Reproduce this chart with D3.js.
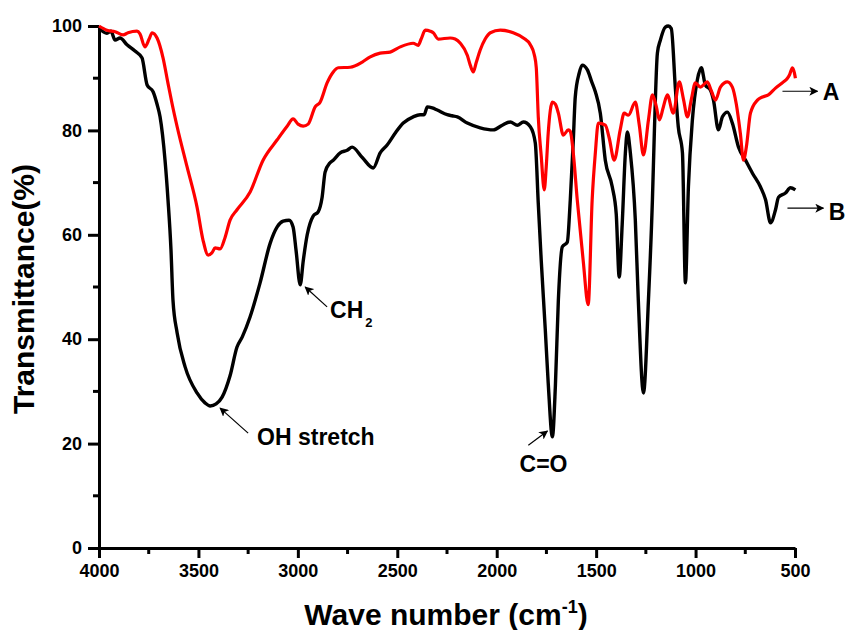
<!DOCTYPE html>
<html>
<head>
<meta charset="utf-8">
<script src="https://cdn.jsdelivr.net/npm/d3@7"></script>
<style>
  html, body { margin: 0; padding: 0; background: #fff; }
  svg { display: block; font-family: "Liberation Sans", Arial, sans-serif; font-weight: bold; }
</style>
</head>
<body>
<svg id="chart" width="845" height="630"></svg>
<script>
// FTIR spectra: wavenumber (cm-1) and transmittance (%)
const wavenumberA = [4000,3960,3919,3879,3854,3809,3794,3769,3748,3733,3708,3678,3653,3633,3607,3557,3507,3477,3451,3431,3416,3391,3366,3341,3306,3240,3175,3104,3054,3024,2999,2973,2948,2913,2888,2853,2822,2797,2737,2676,2636,2586,2536,2485,2420,2395,2380,2359,2334,2319,2294,2234,2209,2183,2148,2133,2118,2103,2083,2058,2032,1982,1917,1866,1831,1811,1801,1791,1776,1761,1751,1741,1720,1705,1690,1665,1640,1630,1615,1595,1565,1540,1520,1504,1489,1454,1434,1409,1379,1359,1338,1303,1283,1262,1237,1217,1197,1182,1162,1142,1112,1082,1061,1041,1021,1001,976,941,920,900,875,840,815,795,775,759,744,724,689,664,634,598,558,538,528,513,503,498];
const transmittanceA = [100,99.2,98.9,98.3,98.7,99.0,98.5,96.0,97.5,98.7,97.7,93.9,89,85.2,80.7,73.0,65.3,59.0,56.1,56.6,57.5,57.3,59.5,62.8,64.8,68.2,74.3,78.2,80.8,82.2,81.2,80.8,81.2,84.5,85.4,89.1,91.2,92.0,92.1,93.1,94.1,94.8,95.0,96.0,96.7,96.3,97.5,99.2,99.0,98.7,97.5,97.7,97.5,96.7,94.4,92.5,91.2,93.0,95.4,97.5,98.7,99.2,98.7,97.7,96.4,94.5,92,82.6,75,68.6,73,79.5,85.4,85.0,83.3,79.1,80.1,79.8,75.7,66.7,55,46.6,66.7,75.7,81.4,81.0,78.5,74.3,80.1,83.3,82.9,85.4,81,75.3,82,86.8,84.5,82.0,84.5,86.8,83.3,89.3,86,82.6,86,89.1,88.3,89.3,87.5,85.8,88.3,89.3,88.3,85,79.5,74.3,77,83.3,85.8,86.4,86.8,88.1,89.3,90.0,90.6,92.0,91.0,90.0];

const wavenumberB = [4000,3960,3940,3919,3894,3859,3819,3784,3758,3728,3708,3693,3668,3653,3638,3628,3607,3567,3507,3467,3441,3411,3381,3341,3306,3280,3240,3190,3139,3104,3074,3044,3024,3009,2988,2973,2953,2923,2898,2878,2863,2838,2822,2787,2752,2727,2676,2621,2586,2551,2510,2470,2420,2385,2365,2349,2324,2299,2249,2224,2198,2148,2083,2017,1972,1932,1896,1866,1831,1806,1791,1776,1756,1741,1720,1705,1690,1670,1645,1630,1615,1605,1585,1570,1544,1524,1504,1479,1454,1419,1399,1384,1369,1353,1343,1328,1303,1288,1262,1237,1217,1207,1192,1177,1152,1137,1122,1102,1087,1066,1051,1036,1016,991,971,951,925,910,885,865,840,815,784,749,714,674,648,623,598,583,548,523,498];
const transmittanceB = [99.6,98.6,99.0,97.3,97.7,96.4,95.2,93.9,88.7,87.4,85.0,82.6,74.3,66.7,57.1,47.5,41.2,34.7,29.7,27.8,27.2,27.6,28.9,33.0,38.5,40.4,44.3,50.8,58.4,61.5,62.6,62.8,61.5,57,50.4,55,60.0,63.6,64.4,67.2,72.0,73.8,74.3,75.7,76.2,76.8,74.8,72.8,75.7,77.2,79.5,81.4,82.6,83.0,83.0,84.5,84.3,83.9,83.0,82.8,82.6,81.4,80.5,80.1,81.0,81.6,81.0,81.6,80.7,77.6,66,55,42,31.6,21.3,31,47.5,57.7,58.6,66.7,78,86.4,91.0,92.5,91.6,89.5,87.4,83.3,74.3,69.2,64,51.9,62,75.7,79.7,75.7,62.8,47.5,29.7,47.5,66.7,80,94.8,97.3,99.8,100,99.5,88.3,80.7,75.7,50.8,69.2,82.0,89.7,92.0,88.7,87.7,85.8,80.1,82.6,83.5,81.4,76.8,74.3,71.8,69.2,66.7,62.3,64.8,67.2,68.0,69.0,68.6];

const xTickValues = [4000, 3500, 3000, 2500, 2000, 1500, 1000, 500];
const xMinorTicks = [3750, 3250, 2750, 2250, 1750, 1250, 750];
const yTickValues = [0, 20, 40, 60, 80, 100];
const yMinorTicks = [10, 30, 50, 70, 90];

const svg = d3.select("#chart");
const x = d3.scaleLinear().domain([4000, 500]).range([99, 795]);
const y = d3.scaleLinear().domain([0, 100]).range([548, 26]);

// Axes
const xAxis = svg.append("g").attr("transform", `translate(0,${y(0)})`)
  .call(d3.axisBottom(x).tickValues(xTickValues).tickFormat(d3.format("d"))
    .tickSize(10).tickSizeOuter(0).tickPadding(6));
xAxis.append("g").selectAll("line").data(xMinorTicks).join("line")
  .attr("x1", d => x(d)).attr("x2", d => x(d)).attr("y1", 0).attr("y2", 6);

const yAxis = svg.append("g").attr("transform", `translate(${x(4000)},0)`)
  .call(d3.axisLeft(y).tickValues(yTickValues).tickFormat(d3.format("d"))
    .tickSize(11).tickSizeOuter(0).tickPadding(6));
yAxis.append("g").selectAll("line").data(yMinorTicks).join("line")
  .attr("x1", 0).attr("x2", -6).attr("y1", d => y(d)).attr("y2", d => y(d));

[xAxis, yAxis].forEach(g => {
  g.select(".domain").attr("stroke", "#000").attr("stroke-width", 3);
  g.selectAll("line").attr("stroke", "#000").attr("stroke-width", 3);
  g.selectAll("text").attr("fill", "#000").style("font-size", "18px").style("font-weight", "bold")
    .style("font-family", "'Liberation Sans', Arial, sans-serif");
});

// Spectra
const line = d3.line().x(d => x(d[0])).y(d => y(d[1])).curve(d3.curveMonotoneX);
const seriesA = wavenumberA.map((w, i) => [w, transmittanceA[i]]);
const seriesB = wavenumberB.map((w, i) => [w, transmittanceB[i]]);

svg.append("path").datum(seriesB).attr("d", line)
  .attr("fill", "none").attr("stroke", "#000").attr("stroke-width", 3.4).attr("stroke-linejoin", "round");
svg.append("path").datum(seriesA).attr("d", line)
  .attr("fill", "none").attr("stroke", "#ff0000").attr("stroke-width", 3.2).attr("stroke-linejoin", "round");

// Arrowhead
svg.append("defs").append("marker")
  .attr("id", "head").attr("viewBox", "0 0 10 10").attr("refX", 9).attr("refY", 5)
  .attr("markerWidth", 9).attr("markerHeight", 9).attr("markerUnits", "userSpaceOnUse")
  .attr("orient", "auto")
  .append("path").attr("d", "M0,0 L10,5 L0,10 L2.5,5 Z").attr("fill", "#000");

// Annotations: arrow [from, to] in data units, label position
const annotations = [
  { from: [3250, 22.0], to: [3391, 26.8], text: "OH stretch", at: [3205, 19.7] },
  { from: [2853, 46.2], to: [2963, 50.0], text: "CH", sub: "2", at: [2838, 44.1] },
  { from: [1841, 19.7], to: [1745, 22.4], text: "C=O", at: [1885, 14.6] },
  { from: [563, 87.5], to: [387, 87.5], text: "A", at: [360, 85.8] },
  { from: [538, 65.1], to: [357, 65.1], text: "B", at: [330, 62.8] }
];

annotations.forEach(a => {
  svg.append("line")
    .attr("x1", x(a.from[0])).attr("y1", y(a.from[1]))
    .attr("x2", x(a.to[0])).attr("y2", y(a.to[1]))
    .attr("stroke", "#000").attr("stroke-width", 1.2).attr("marker-end", "url(#head)");
  const t = svg.append("text").attr("x", x(a.at[0])).attr("y", y(a.at[1]))
    .style("font-size", "23px").attr("fill", "#000").text(a.text);
  if (a.sub) t.append("tspan").attr("dx", 2).attr("dy", 9).style("font-size", "13px").text(a.sub);
});

// Axis titles
svg.append("text")
  .attr("transform", `translate(34,${(y(0) + y(100)) / 2 + 2}) rotate(-90)`)
  .attr("text-anchor", "middle").style("font-size", "30px").attr("fill", "#000")
  .text("Transmittance(%)");

const xt = svg.append("text").attr("x", (x(4000) + x(500)) / 2 - 1).attr("y", 625)
  .attr("text-anchor", "middle").style("font-size", "30px").attr("fill", "#000");
xt.append("tspan").text("Wave number (cm");
xt.append("tspan").attr("dy", -12).style("font-size", "18px").text("-1");
xt.append("tspan").attr("dy", 12).text(")");
</script>
</body>
</html>
